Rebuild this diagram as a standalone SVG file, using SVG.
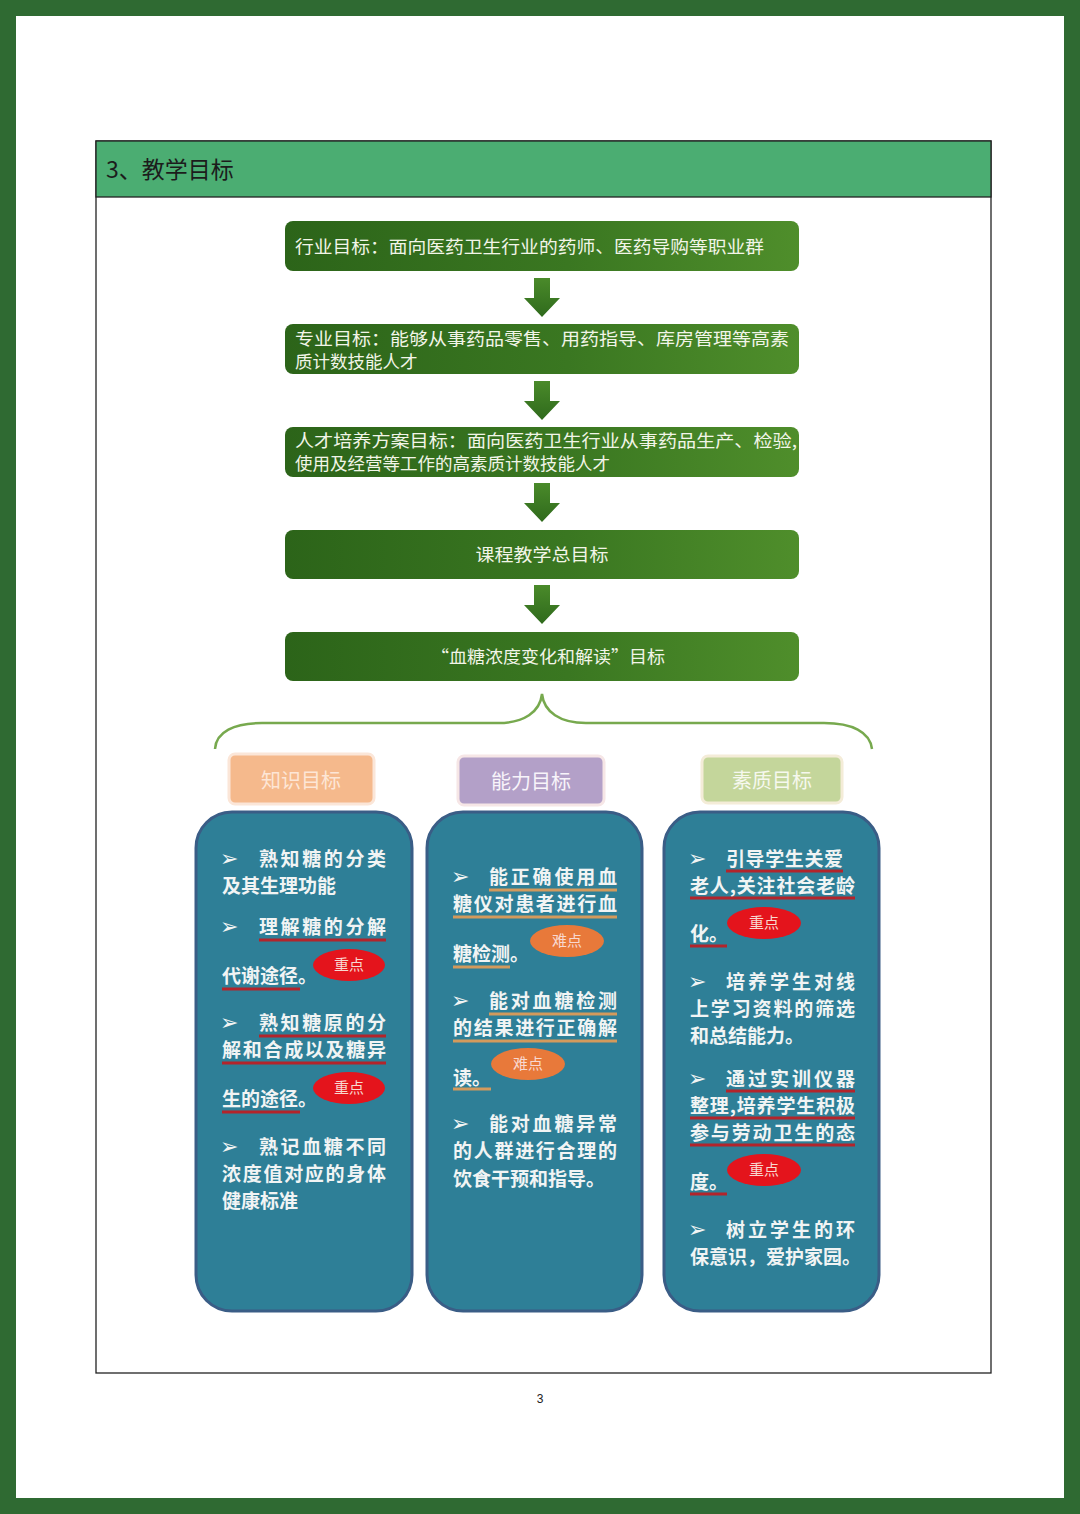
<svg xmlns="http://www.w3.org/2000/svg" width="1080" height="1514" viewBox="0 0 1080 1514">
<defs>
<linearGradient id="gb" x1="0" y1="0" x2="1" y2="0">
<stop offset="0" stop-color="#2c6419"/>
<stop offset="0.55" stop-color="#3a7721"/>
<stop offset="1" stop-color="#4f8e2b"/>
</linearGradient>
<linearGradient id="ga" x1="0" y1="0" x2="0" y2="1">
<stop offset="0" stop-color="#4a8a2a"/>
<stop offset="1" stop-color="#2f6a1c"/>
</linearGradient>
<style>
.gbox{fill:url(#gb);}
.gt{font-family:"Noto Sans CJK SC","Liberation Sans",sans-serif;font-size:17.5px;fill:#f2f5e8;}
.arr{fill:url(#ga);}
.panel{fill:#2e7f97;stroke:#3a5d86;stroke-width:3;}
.pt{font-family:"Noto Sans CJK SC","Liberation Sans",sans-serif;font-size:19px;font-weight:bold;fill:#f1f4f4;}
.bul{font-family:"DejaVu Sans",sans-serif;font-size:22px;fill:#f1f4f4;}
.ulr{stroke:#b3242b;stroke-width:3;}
.ulo{stroke:#d39a5c;stroke-width:3;}
.zd{fill:#e4141c;}
.nd{fill:#e8793a;}
.et{font-family:"Noto Sans CJK SC","Liberation Sans",sans-serif;font-size:15px;fill:#f8d8d0;text-anchor:middle;}
.ht{font-family:"Noto Sans CJK SC","Liberation Sans",sans-serif;font-size:20px;text-anchor:middle;}
</style>
</defs>
<rect x="0" y="0" width="1080" height="1514" fill="#2f6a32"/>
<rect x="16" y="16" width="1048" height="1482" fill="#ffffff"/>

<g id="frame">
<rect x="96" y="141" width="895" height="1232" fill="none" stroke="#222" stroke-width="1.3"/>
<rect x="96" y="141" width="895" height="56" fill="#4bad72" stroke="#222" stroke-width="1.3"/>
<text x="106" y="178" font-family="'Noto Sans CJK SC','Liberation Sans',sans-serif" font-size="23" fill="#1c1c1c">3、教学目标</text>
</g>

<g id="n1"><rect class="gbox" x="285" y="221" width="514" height="50" rx="8"/>
<text class="gt" x="295" y="253" textLength="469" lengthAdjust="spacingAndGlyphs">行业目标：面向医药卫生行业的药师、医药导购等职业群</text></g>
<g id="n2"><rect class="gbox" x="285" y="324" width="514" height="50" rx="8"/>
<text class="gt" x="295" y="345" textLength="494" lengthAdjust="spacingAndGlyphs">专业目标：能够从事药品零售、用药指导、库房管理等高素</text>
<text class="gt" x="295" y="368">质计数技能人才</text></g>
<g id="n3"><rect class="gbox" x="285" y="427" width="514" height="50" rx="8"/>
<text class="gt" x="295" y="447" textLength="502" lengthAdjust="spacingAndGlyphs">人才培养方案目标：面向医药卫生行业从事药品生产、检验,</text>
<text class="gt" x="295" y="470">使用及经营等工作的高素质计数技能人才</text></g>
<g id="n4"><rect class="gbox" x="285" y="530" width="514" height="49" rx="8"/>
<text class="gt" x="542" y="561" text-anchor="middle" textLength="133" lengthAdjust="spacingAndGlyphs">课程教学总目标</text></g>
<g id="n5"><rect class="gbox" x="285" y="632" width="514" height="49" rx="8"/>
<text class="gt" x="548" y="663" text-anchor="middle" textLength="234" lengthAdjust="spacingAndGlyphs">“血糖浓度变化和解读”目标</text></g>

<g id="connectors">
<polygon class="arr" points="534,278 550,278 550,298 560,298 542,317 524,298 534,298"/>
<polygon class="arr" points="534,381 550,381 550,401 560,401 542,420 524,401 534,401"/>
<polygon class="arr" points="534,483 550,483 550,503 560,503 542,522 524,503 534,503"/>
<polygon class="arr" points="534,585 550,585 550,605 560,605 542,624 524,605 534,605"/>
<path d="M215,749 C216,732 234,723 262,723 L498,723 C524,723 540,712 542,694 C544,712 560,723 586,723 L824,723 C852,723 870,732 872,749" fill="none" stroke="#77a94e" stroke-width="2.5"/>
</g>

<g id="h1"><rect x="229" y="754" width="145" height="50" rx="6" fill="#f5b98c" stroke="#fbe6d8" stroke-width="3"/>
<text class="ht" x="301" y="788" fill="#fde6d6">知识目标</text></g>
<g id="h2"><rect x="458" y="756" width="146" height="49" rx="6" fill="#b3a0c8" stroke="#f6e6e6" stroke-width="3"/>
<text class="ht" x="531" y="789" fill="#f8f4fa">能力目标</text></g>
<g id="h3"><rect x="702" y="756" width="140" height="47" rx="6" fill="#c4d69b" stroke="#f4ecd8" stroke-width="3"/>
<text class="ht" x="772" y="788" fill="#f6f8ee">素质目标</text></g>

<g id="p1">
<rect class="panel" x="196" y="812" width="216" height="499" rx="36"/>
<text class="bul" x="220" y="866">➢</text><text class="pt" x="259" y="866" textLength="127" lengthAdjust="spacing">熟知糖的分类</text>
<text class="pt" x="222" y="893">及其生理功能</text>
<text class="bul" x="220" y="934">➢</text><text class="pt" x="259" y="934" textLength="127" lengthAdjust="spacing">理解糖的分解</text>
<line class="ulr" x1="259" y1="940" x2="386" y2="940"/>
<text class="pt" x="222" y="983">代谢途径。</text>
<line class="ulr" x1="222" y1="989" x2="300" y2="989"/>
<ellipse class="zd" cx="349" cy="965" rx="36" ry="16"/><text class="et" x="349" y="970">重点</text>
<text class="bul" x="220" y="1030">➢</text><text class="pt" x="259" y="1030" textLength="127" lengthAdjust="spacing">熟知糖原的分</text>
<line class="ulr" x1="259" y1="1036" x2="386" y2="1036"/>
<text class="pt" x="222" y="1057" textLength="164" lengthAdjust="spacing">解和合成以及糖异</text>
<line class="ulr" x1="222" y1="1063" x2="386" y2="1063"/>
<text class="pt" x="222" y="1106">生的途径。</text>
<line class="ulr" x1="222" y1="1112" x2="300" y2="1112"/>
<ellipse class="zd" cx="349" cy="1088" rx="36" ry="16"/><text class="et" x="349" y="1093">重点</text>
<text class="bul" x="220" y="1154">➢</text><text class="pt" x="259" y="1154" textLength="127" lengthAdjust="spacing">熟记血糖不同</text>
<text class="pt" x="222" y="1181" textLength="164" lengthAdjust="spacing">浓度值对应的身体</text>
<text class="pt" x="222" y="1208">健康标准</text>
</g>

<g id="p2">
<rect class="panel" x="427" y="812" width="215" height="499" rx="36"/>
<text class="bul" x="451" y="884">➢</text><text class="pt" x="489" y="884" textLength="128" lengthAdjust="spacing">能正确使用血</text>
<line class="ulo" x1="489" y1="890" x2="617" y2="890"/>
<text class="pt" x="453" y="911" textLength="164" lengthAdjust="spacing">糖仪对患者进行血</text>
<line class="ulo" x1="453" y1="917" x2="617" y2="917"/>
<text class="pt" x="453" y="961">糖检测。</text>
<line class="ulo" x1="453" y1="967" x2="510" y2="967"/>
<ellipse class="nd" cx="567" cy="941" rx="37" ry="16"/><text class="et" x="567" y="946" fill="#fde4d2">难点</text>
<text class="bul" x="451" y="1008">➢</text><text class="pt" x="489" y="1008" textLength="128" lengthAdjust="spacing">能对血糖检测</text>
<line class="ulo" x1="489" y1="1014" x2="617" y2="1014"/>
<text class="pt" x="453" y="1035" textLength="164" lengthAdjust="spacing">的结果进行正确解</text>
<line class="ulo" x1="453" y1="1041" x2="617" y2="1041"/>
<text class="pt" x="453" y="1085">读。</text>
<line class="ulo" x1="453" y1="1089" x2="491" y2="1089"/>
<ellipse class="nd" cx="528" cy="1064" rx="37" ry="16"/><text class="et" x="528" y="1069" fill="#fde4d2">难点</text>
<text class="bul" x="451" y="1131">➢</text><text class="pt" x="489" y="1131" textLength="128" lengthAdjust="spacing">能对血糖异常</text>
<text class="pt" x="453" y="1158" textLength="164" lengthAdjust="spacing">的人群进行合理的</text>
<text class="pt" x="453" y="1186">饮食干预和指导。</text>
</g>

<g id="p3">
<rect class="panel" x="664" y="812" width="215" height="499" rx="36"/>
<text class="bul" x="688" y="866">➢</text><text class="pt" x="726" y="866" textLength="117" lengthAdjust="spacing">引导学生关爱</text>
<line class="ulr" x1="726" y1="871" x2="843" y2="871"/>
<text class="pt" x="690" y="893" textLength="165" lengthAdjust="spacing">老人,关注社会老龄</text>
<line class="ulr" x1="690" y1="898" x2="855" y2="898"/>
<text class="pt" x="690" y="941">化。</text>
<line class="ulr" x1="690" y1="946" x2="727" y2="946"/>
<ellipse class="zd" cx="764" cy="923" rx="37" ry="16"/><text class="et" x="764" y="928">重点</text>
<text class="bul" x="688" y="989">➢</text><text class="pt" x="726" y="989" textLength="129" lengthAdjust="spacing">培养学生对线</text>
<text class="pt" x="690" y="1016" textLength="165" lengthAdjust="spacing">上学习资料的筛选</text>
<text class="pt" x="690" y="1043">和总结能力。</text>
<text class="bul" x="688" y="1086">➢</text><text class="pt" x="726" y="1086" textLength="129" lengthAdjust="spacing">通过实训仪器</text>
<line class="ulr" x1="726" y1="1091" x2="855" y2="1091"/>
<text class="pt" x="690" y="1113" textLength="165" lengthAdjust="spacing">整理,培养学生积极</text>
<line class="ulr" x1="690" y1="1118" x2="855" y2="1118"/>
<text class="pt" x="690" y="1140" textLength="165" lengthAdjust="spacing">参与劳动卫生的态</text>
<line class="ulr" x1="690" y1="1145" x2="855" y2="1145"/>
<text class="pt" x="690" y="1189">度。</text>
<line class="ulr" x1="690" y1="1194" x2="727" y2="1194"/>
<ellipse class="zd" cx="764" cy="1170" rx="37" ry="16"/><text class="et" x="764" y="1175">重点</text>
<text class="bul" x="688" y="1237">➢</text><text class="pt" x="726" y="1237" textLength="129" lengthAdjust="spacing">树立学生的环</text>
<text class="pt" x="690" y="1264">保意识，爱护家园。</text>
</g>

<text x="540" y="1403" font-family="'Liberation Sans',sans-serif" font-size="12" text-anchor="middle" fill="#222">3</text>
</svg>
